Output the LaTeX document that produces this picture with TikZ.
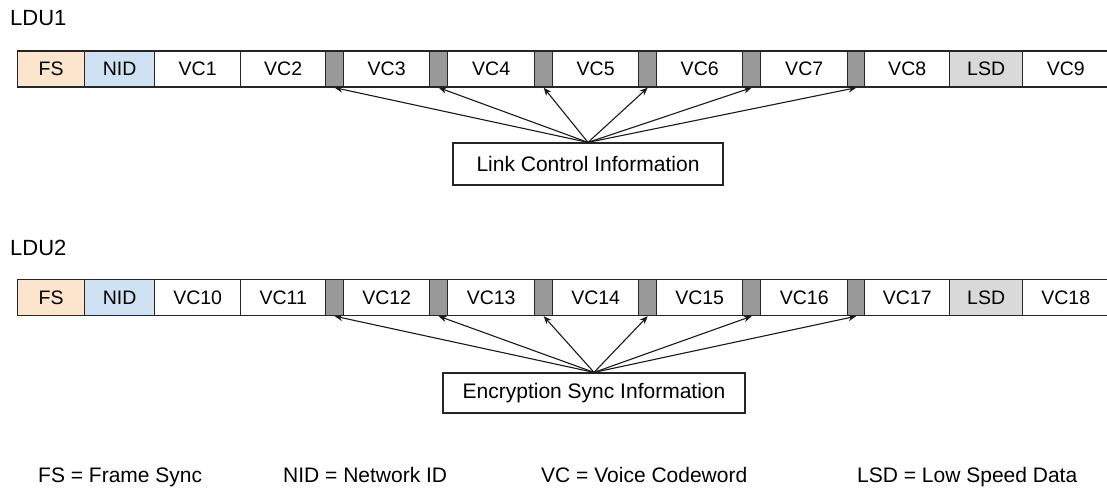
\documentclass[tikz,border=0pt]{standalone}
\usepackage{fontspec}
\setmainfont{Liberation Sans}
\usetikzlibrary{arrows.meta}
\definecolor{fsfill}{HTML}{FCE5CD}
\definecolor{nidfill}{HTML}{CFE2F3}
\definecolor{lsdfill}{HTML}{D9D9D9}
\definecolor{sepfill}{HTML}{999999}
\tikzset{
  cell/.style={draw=black!85, line width=1.4pt, minimum height=36pt, inner sep=0pt, anchor=west, font=\fontsize{19.5}{22}\selectfont},
  plain/.style={fill=white},
  fsc/.style={fill=fsfill},
  nidc/.style={fill=nidfill},
  lsdc/.style={fill=lsdfill},
  sepc/.style={fill=sepfill},
  infobox/.style={draw=black!85, line width=1.2pt, inner sep=0pt, fill=white, font=\fontsize{21}{24}\selectfont},
  rowlabel/.style={anchor=base west, inner sep=0pt, font=\fontsize{22}{26}\selectfont},
  legend/.style={anchor=base west, inner sep=0pt, font=\fontsize{21}{24}\selectfont},
  conn/.style={draw=black!90, line width=1.1pt, -{Stealth[length=8pt,width=6.5pt]}},
}
\begin{document}
\begin{tikzpicture}[x=1pt,y=-1pt]
\useasboundingbox (0,0) rectangle (1107,489);
\begin{scope}
\clip (0,0) rectangle (1107,489);
% Row 1
\node[rowlabel] (ldu1) at (10,26) {LDU1};
\foreach \n/\x/\w/\t/\s in {fs/17/67/FS/fsc, nid/84/70/NID/nidc, a/154/86/VC1/plain, b/240/85/VC2/plain,
  g1/325/18//sepc, c/343/86/VC3/plain, g2/429/18//sepc, d/447/87/VC4/plain, g3/534/18//sepc,
  e/552/86/VC5/plain, g4/638/18//sepc, f/656/86/VC6/plain, g5/742/18//sepc, h/760/87/VC7/plain,
  g6/847/17//sepc, i/864/85/VC8/plain, lsd/949/73/LSD/lsdc, j/1022/86/VC9/plain}
  { \node[cell, \s, minimum width=\w] (r1\n) at (\x,69) {\t}; }
\node[infobox, minimum width=270pt, minimum height=42pt] (lci) at (588,164) {Link Control Information};
\foreach \g in {g1,g2,g3,g4,g5,g6} { \draw[conn] (lci.north) -- (r1\g.south); }
% Row 2
\node[rowlabel] (ldu2) at (10,255) {LDU2};
\foreach \n/\x/\w/\t/\s in {fs/17/67/FS/fsc, nid/84/70/NID/nidc, a/154/86/VC10/plain, b/240/85/VC11/plain,
  g1/325/18//sepc, c/343/86/VC12/plain, g2/429/18//sepc, d/447/87/VC13/plain, g3/534/18//sepc,
  e/552/86/VC14/plain, g4/638/18//sepc, f/656/86/VC15/plain, g5/742/18//sepc, h/760/87/VC16/plain,
  g6/847/17//sepc, i/864/85/VC17/plain, lsd/949/73/LSD/lsdc, j/1022/86/VC18/plain}
  { \node[cell, \s, minimum width=\w] (r2\n) at (\x,297.5) {\t}; }
\node[infobox, minimum width=302pt, minimum height=40pt] (esi) at (594,393) {Encryption Sync Information};
\foreach \g in {g1,g2,g3,g4,g5,g6} { \draw[conn] (esi.north) -- (r2\g.south); }
% Legend
\node[legend] (l1) at (38,482) {FS = Frame Sync};
\node[legend] (l2) at (283,482) {NID = Network ID};
\node[legend] (l3) at (541,482) {VC = Voice Codeword};
\node[legend] (l4) at (857,482) {LSD = Low Speed Data};
\end{scope}
\end{tikzpicture}
\end{document}
